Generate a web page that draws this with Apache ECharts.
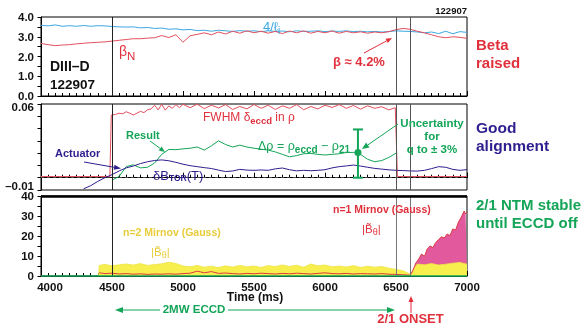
<!DOCTYPE html>
<html><head><meta charset="utf-8">
<script src="https://cdn.jsdelivr.net/npm/echarts@6/dist/echarts.min.js"></script>
<style>
html,body{margin:0;padding:0;background:#fff}
#wrap{position:relative;width:581px;height:331px}
#c{position:absolute;left:0;top:0;width:581px;height:331px}
.ylab{position:absolute;z-index:10;font:bold 11.5px "Liberation Sans", Arial, sans-serif;color:#111;white-space:nowrap;transform:translate(-100%,-50%);line-height:13px;pointer-events:none}
</style>
</head><body><div id="wrap"><div id="c"></div></div>
<script>
// ---------- DATA ----------
const xTicks = [4000, 4500, 5000, 5500, 6000, 6500, 7000];
const eventTimes = [4500, 6500, 6600];
const yTicks1 = [0, 1, 2, 3, 4];
const yTicks2 = [-0.01, 0.06];
const yTicks3 = [0, 10, 20, 30, 40];

// Panel 1: beta_N and 4*li
const panel1Time = [4000,4050,4100,4150,4200,4250,4300,4350,4400,4450,
  4500,4550,4600,4650,4700,4750,4800,4850,4900,4950,
  5000,5050,5100,5150,5200,5250,5300,5350,5400,5450,
  5500,5550,5600,5650,5700,5750,5800,5850,5900,5950,
  6000,6050,6100,6150,6200,6250,6300,6350,6400,6450,
  6500,6550,6600,6650,6700,6750,6800,6850,6900,6950,7000];
const fourLi = [3.58,3.55,3.6,3.53,3.56,3.53,3.57,3.53,3.56,3.55,
  3.52,3.5,3.49,3.5,3.45,3.47,3.42,3.44,3.38,3.4,
  3.35,3.37,3.31,3.33,3.28,3.33,3.3,3.27,3.31,3.28,
  3.3,3.26,3.3,3.27,3.29,3.25,3.3,3.27,3.28,3.3,
  3.26,3.29,3.27,3.3,3.26,3.28,3.25,3.27,3.24,3.26,
  3.3,3.28,3.27,3.24,3.2,3.24,3.16,3.28,3.15,3.26,3.22];
const betaN = [2.66,2.6,2.55,2.58,2.6,2.64,2.67,2.7,2.72,2.74,
  2.78,2.82,2.86,2.9,2.9,2.93,2.95,3.06,2.96,3.1,
  2.72,3.05,3.12,3.2,3.1,3.24,3.14,3.28,3.18,3.3,
  3.2,3.28,3.18,3.27,3.16,3.29,3.2,3.3,3.18,3.27,
  3.2,3.29,3.18,3.27,3.2,3.25,3.18,3.24,3.2,3.26,
  3.36,3.42,3.38,3.28,3.2,3.1,3.0,2.95,3.0,2.97,2.92];

// Panel 2: FWHM, result, actuator
const fwhmTime = [4000,4485,4495,4525,4550,4575,4600,4625,4650,4675,4700,4725,4750,4775,4800,4825,4850,4875,4900,4925,4950,4975,
  5000,5050,5100,5150,5200,5250,5300,5350,5400,5450,5500,5550,5600,5650,5700,5750,5800,5850,5900,5950,
  6000,6050,6100,6150,6200,6250,6300,6350,6400,6450,6495,6510,7000];
const fwhm = [0.001,0.001,0.051,0.0515,0.0525,0.052,0.0537,0.0525,0.051,0.0525,0.054,0.053,0.0553,0.056,0.059,0.0552,0.0598,0.055,0.0585,0.0565,0.0595,0.057,
  0.0598,0.057,0.0598,0.0562,0.059,0.0568,0.0595,0.0555,0.058,0.056,0.0596,0.0565,0.059,0.0555,0.0585,0.0565,0.0595,0.0553,0.058,0.056,
  0.059,0.0572,0.0595,0.0565,0.0588,0.0558,0.0585,0.0565,0.0578,0.0552,0.057,0.001,0.001];
const resultTime = [4500,4550,4600,4650,4700,4750,4800,4850,4900,4950,
  5000,5050,5100,5150,5200,5250,5300,5350,5400,5450,
  5500,5550,5600,5650,5700,5750,5800,5850,5900,5950,
  6000,6050,6100,6150,6200,6250,6300,6350,6400,6450,6500];
const resultDrho = [-0.002,0.001,0.009,0.0105,0.008,0.0085,0.012,0.019,0.023,0.0228,
  0.0235,0.024,0.025,0.0225,0.026,0.030,0.027,0.025,0.0265,0.025,
  0.024,0.0232,0.0225,0.021,0.019,0.017,0.018,0.0195,0.0198,0.019,
  0.0185,0.019,0.0195,0.0205,0.0206,0.019,0.015,0.013,0.014,0.0165,0.020];
const actuatorTime = [4300,4350,4400,4450,4500,4550,4600,4650,4700,4750,
  4800,4850,4900,4950,5000,5050,5100,5150,5200,5250,
  5300,5350,5400,5450,5500,5550,5600,5650,5700,5750,
  5800,5850,5900,5950,6000,6050,6100,6150,6200,6250,
  6300,6350,6400,6450,6500,6550,6600,6650,6700,6750,
  6800,6850,6900,6950,7000];
const actuatorDB = [-0.009,-0.0065,-0.003,0.0,0.0025,0.0055,0.008,0.0095,0.0115,0.013,
  0.014,0.0145,0.0138,0.0125,0.011,0.0098,0.009,0.0082,0.0075,0.0062,
  0.005,0.0055,0.0068,0.0062,0.006,0.0063,0.006,0.0072,0.0079,0.0065,
  0.0056,0.006,0.0057,0.006,0.0065,0.008,0.009,0.0096,0.0103,0.0095,
  0.0085,0.0076,0.007,0.0064,0.006,0.0058,0.0055,0.0054,0.006,0.0074,
  0.009,0.0085,0.0068,0.006,0.0066];
const errT = [6232];
const errMid = [0.0206];
const errLo = [0.0];
const errHi = [0.0393];

// Panel 3: Mirnov amplitudes (Gauss)
const n2Time = [4405,4410,4450,4500,4550,4600,4650,4700,4750,4800,4850,4900,4950,
  5000,5050,5100,5150,5200,5250,5300,5350,5400,5450,5500,5550,5600,5650,5700,5750,5800,5850,5900,5950,
  6000,6050,6100,6150,6200,6250,6300,6350,6400,6450,6500,6550,6590,6610,6630,6650,6700,6750,6800,6850,6900,6950,7000];
const n2Amp = [0,5.3,5.8,5.1,5.6,6.0,5.5,6.2,5.3,5.7,6.1,6.9,6.3,
  5.0,4.6,5.3,4.4,4.9,4.2,5.1,4.5,5.3,4.6,5.0,4.3,5.2,4.7,5.5,4.8,5.4,4.4,6.0,5.1,
  5.5,4.6,5.0,4.5,5.2,4.3,4.9,4.4,4.7,3.9,3.3,2.6,1.2,1.0,4.2,6.0,5.6,6.2,5.5,5.9,6.4,6.8,5.9];
const n1Time = [4410,4450,4500,4550,4600,4650,4700,4750,4800,4850,4900,4950,
  5000,5050,5100,5150,5200,5250,5300,5350,5400,5450,5500,5550,5600,5650,5700,5750,5800,5850,5900,5950,
  6000,6050,6100,6150,6200,6250,6300,6350,6400,6450,6500,6550,6600,
  6620,6640,6660,6680,6700,6720,6740,6760,6780,6800,6820,6840,6860,6880,6900,6920,6940,6960,6980,6990,7000];
const n1Amp = [1.6,1.2,1.4,1.0,1.2,0.9,1.1,0.8,1.0,0.9,1.1,0.9,
  1.2,1.4,2.4,1.6,2.2,1.3,1.5,1.2,1.0,1.3,1.1,1.4,1.2,1.0,1.3,1.1,1.4,1.2,1.0,1.3,
  1.6,1.2,1.1,1.3,1.0,1.2,1.1,1.0,1.2,0.9,0.8,0.6,0.4,
  3.0,6.5,8.5,11.0,9.8,13.5,15.0,14.2,16.8,18.2,19.6,19.0,21.0,20.2,23.5,23.0,27.0,29.5,32.5,31.0,32.0];

// ---------- STYLE ----------
const FF = '"Liberation Sans", Arial, Helvetica, sans-serif';
const RED = '#e0303c', BETARED = '#e2505e', CYAN = '#3aa8e0', NAVY = '#2e1f8e', GREEN = '#14a558',
      YEL = '#f6ef4e', YELTXT = '#e8cc3c', PINK = '#e2599d';

const zip = (a, b) => a.map((t, i) => [t, b[i]]);

function xAx(idx, showLabels) {
  return {
    type: 'value', gridIndex: idx, min: xTicks[0], max: xTicks[xTicks.length - 1], interval: 500,
    axisLine: { show: true, lineStyle: { color: '#000', width: 1 } },
    axisTick: { show: true, inside: true, length: 5, lineStyle: { color: '#000' } },
    minorTick: { show: true, splitNumber: 10, length: 3, lineStyle: { color: '#000' } },
    splitLine: { show: false },
    axisLabel: showLabels ? {
      show: true, margin: 6, color: '#111', fontSize: 11.5, fontWeight: 'bold', fontFamily: FF,
      formatter: v => v === 4000 ? '{first|4000}' : String(v),
      rich: { first: { padding: [0, 0, 0, 18], fontSize: 11.5, fontWeight: 'bold', fontFamily: FF, color: '#111' } }
    } : { show: false }
  };
}
function yAx(idx, min, max, tickStep) {
  return {
    type: 'value', gridIndex: idx, min, max, interval: tickStep,
    axisLine: { show: true, lineStyle: { color: '#000', width: 1 } },
    axisTick: { show: true, inside: false, length: 3.5, lineStyle: { color: '#000' } },
    minorTick: { show: false },
    splitLine: { show: false },
    axisLabel: { show: false }
  };
}
const vlines = (col) => ({
  silent: true, symbol: 'none', label: { show: false }, animation: false,
  data: eventTimes.map((t, i) => ({ xAxis: t, lineStyle: { color: i === 0 ? '#222' : col, width: 1, type: 'solid' } }))
});

// ---------- annotation helpers ----------
const mctx = document.createElement('canvas').getContext('2d');
const G = [];
function txt(s, x, y, color, size, weight, align) {
  G.push({ type: 'text', z: 100, style: {
    text: s, x, y, fill: color, font: `${weight || 'normal'} ${size}px ${FF}`,
    textAlign: align || 'left', textVerticalAlign: 'middle', align: align || 'left', verticalAlign: 'middle' } });
}
function seq(x, y, color, parts, align) {
  let total = 0;
  const ws = parts.map(p => { mctx.font = `${p[2]} ${p[1]}px ${FF}`; const w = mctx.measureText(p[0]).width; total += w; return w; });
  let cx = align === 'center' ? x - total / 2 : x;
  parts.forEach((p, i) => { txt(p[0], cx, y + (p[3] || 0), color, p[1], p[2], 'left'); cx += ws[i]; });
}
function arrow(x1, y1, x2, y2, color, w, hl, hw) {
  hl = hl || 7; hw = hw || 3; w = w || 1;
  const a = Math.atan2(y2 - y1, x2 - x1), c = Math.cos(a), s = Math.sin(a);
  const bx = x2 - hl * c, by = y2 - hl * s;
  G.push({ type: 'line', z: 100, shape: { x1, y1, x2: bx, y2: by }, style: { stroke: color, lineWidth: w } });
  G.push({ type: 'polygon', z: 100, shape: { points: [[x2, y2], [bx + hw * s, by - hw * c], [bx - hw * s, by + hw * c]] }, style: { fill: color } });
}

// Panel 1 annotations
txt('122907', 467, 11.5, '#111', 9.5, 'bold', 'right');
seq(263, 27, CYAN, [['4/\u2113', 13, 'normal', 0], ['i', 10, 'normal', 4]]);
seq(119, 52, RED, [['\u03B2', 14, 'normal', 0], ['N', 11.5, 'normal', 5]]);
txt('DIII\u2013D', 50, 67, '#111', 14, 'bold');
txt('122907', 50, 85, '#111', 13.5, 'bold');
txt('\u03B2 \u2248 4.2%', 333, 62, RED, 13, 'bold');
arrow(364, 53, 392, 38, RED, 1, 6, 2.5);
txt('Beta', 476, 45.5, RED, 15, 'bold');
txt('raised', 476, 64, RED, 15, 'bold');

// Panel 2 annotations
seq(203, 118, RED, [['FWHM \u03B4', 12, 'normal', 0], ['eccd', 9.5, 'bold', 3], [' in \u03C1', 12, 'normal', 0]]);
txt('Result', 126, 136, GREEN, 11, 'bold');
arrow(150, 141, 165, 152, GREEN, 1, 6, 2.5);
txt('Actuator', 55, 154, NAVY, 11, 'bold');
arrow(84, 162, 121, 168.5, NAVY, 1, 7, 2.5);
seq(153, 176, NAVY, [['\u03B4B', 13, 'normal', 0], ['TOR', 8.5, 'bold', 3], ['(T)', 13, 'normal', 0]]);
seq(258, 147, GREEN, [['\u0394\u03C1 = \u03C1', 12.5, 'normal', 0], ['eccd', 10, 'bold', 3], [' \u2212 \u03C1', 12.5, 'normal', 0], ['21', 10, 'bold', 3]]);
txt('Uncertainty', 432, 124, GREEN, 11.5, 'bold', 'center');
txt('for', 432, 137, GREEN, 11.5, 'bold', 'center');
txt('q to \u00B1 3%', 432, 150, GREEN, 11.5, 'bold', 'center');
arrow(398, 124, 362, 149, GREEN, 1, 7, 3);
txt('Good', 476, 129, NAVY, 15.5, 'bold');
txt('alignment', 476, 147, NAVY, 15.5, 'bold');

// Panel 3 annotations
txt('n=2 Mirnov (Gauss)', 123, 233, YELTXT, 10.5, 'bold');
seq(151, 253, YELTXT, [['|B\u0303', 11.5, 'normal', 0], ['\u03B8', 9, 'normal', 3], ['|', 11.5, 'normal', 0]]);
txt('n=1 Mirnov (Gauss)', 333, 210, RED, 10.5, 'bold');
seq(362, 230, RED, [['|B\u0303', 11.5, 'normal', 0], ['\u03B8', 9, 'normal', 3], ['|', 11.5, 'normal', 0]]);
txt('2/1 NTM stable', 476, 205.5, GREEN, 15, 'bold');
txt('until ECCD off', 476, 223.5, GREEN, 15, 'bold');

// Bottom annotations
txt('Time (ms)', 255, 298, '#111', 12, 'bold', 'center');
txt('2MW ECCD', 194, 310, GREEN, 11.5, 'bold', 'center');
arrow(160, 310, 115, 310, GREEN, 1, 8, 3);
arrow(228, 310, 395, 310, GREEN, 1, 8, 3);
txt('2/1 ONSET', 410.5, 319, RED, 13, 'bold', 'center');
arrow(411, 313, 411, 296, RED, 1, 6, 2.5);

// ---------- CHART ----------
const chart = echarts.init(document.getElementById('c'), null, { renderer: 'canvas' });
chart.setOption({
  animation: false,
  backgroundColor: '#fff',
  grid: [
    { left: 41, width: 426, top: 17, height: 79, show: true, borderColor: '#000', borderWidth: 1, backgroundColor: 'transparent' },
    { left: 41, width: 426, top: 104, height: 86, show: true, borderColor: '#000', borderWidth: 1, backgroundColor: 'transparent' },
    { left: 41, width: 426, top: 196, height: 80, show: true, borderColor: '#000', borderWidth: 1, backgroundColor: 'transparent' }
  ],
  xAxis: [xAx(0, false), xAx(1, false), xAx(2, true)],
  yAxis: [ yAx(0, 0, 4, 0.5), yAx(1, -0.01, 0.06, 0.01), yAx(2, 0, 40, 5) ],
  graphic: { elements: G },
  series: [
    { type: 'line', name: '4li', xAxisIndex: 0, yAxisIndex: 0, data: zip(panel1Time, fourLi), showSymbol: false,
      lineStyle: { color: CYAN, width: 1 }, markLine: vlines('#555') },
    { type: 'line', name: 'betaN', xAxisIndex: 0, yAxisIndex: 0, data: zip(panel1Time, betaN), showSymbol: false,
      lineStyle: { color: BETARED, width: 1 } },

    { type: 'line', name: 'fwhm', xAxisIndex: 1, yAxisIndex: 1, data: zip(fwhmTime, fwhm), showSymbol: false,
      lineStyle: { color: BETARED, width: 1 }, markLine: vlines('#555') },
    { type: 'line', name: 'result', xAxisIndex: 1, yAxisIndex: 1, data: zip(resultTime, resultDrho), showSymbol: false,
      lineStyle: { color: GREEN, width: 1 } },
    { type: 'line', name: 'actuator', xAxisIndex: 1, yAxisIndex: 1, data: zip(actuatorTime, actuatorDB), showSymbol: false,
      lineStyle: { color: NAVY, width: 1 },
      markLine: { silent: true, symbol: 'none', label: { show: false },
        data: [{ yAxis: 0, lineStyle: { color: '#444', width: 1, type: [3, 3] } }] } },
    { type: 'custom', name: 'err', xAxisIndex: 1, yAxisIndex: 1, z: 5,
      data: errT.map((t, i) => [t, errMid[i], errLo[i], errHi[i]]),
      renderItem: (params, api) => {
        const c = api.coord([api.value(0), api.value(1)]);
        const lo = api.coord([api.value(0), api.value(2)]);
        const hi = api.coord([api.value(0), api.value(3)]);
        const st = { stroke: GREEN, lineWidth: 2 };
        return { type: 'group', children: [
          { type: 'line', shape: { x1: c[0], y1: lo[1], x2: c[0], y2: hi[1] }, style: st },
          { type: 'line', shape: { x1: c[0] - 5, y1: lo[1], x2: c[0] + 5, y2: lo[1] }, style: st },
          { type: 'line', shape: { x1: c[0] - 5, y1: hi[1], x2: c[0] + 5, y2: hi[1] }, style: st },
          { type: 'circle', shape: { cx: c[0], cy: c[1], r: 3.5 }, style: { fill: GREEN } }
        ] };
      } },

    { type: 'line', name: 'n1area', xAxisIndex: 2, yAxisIndex: 2, data: zip(n1Time, n1Amp), showSymbol: false,
      lineStyle: { width: 0 }, areaStyle: { color: PINK, opacity: 1 } },
    { type: 'line', name: 'n2', xAxisIndex: 2, yAxisIndex: 2, data: zip(n2Time, n2Amp), showSymbol: false,
      lineStyle: { color: '#ede445', width: 0.8 }, areaStyle: { color: YEL, opacity: 1 } },
    { type: 'line', name: 'n1', xAxisIndex: 2, yAxisIndex: 2, data: zip(n1Time, n1Amp), showSymbol: false,
      lineStyle: { color: '#dc3a44', width: 1 },
      markLine: { silent: true, symbol: 'none', label: { show: false },
        data: [
          { xAxis: eventTimes[0], lineStyle: { color: '#222', width: 1, type: 'solid' } },
          { xAxis: eventTimes[1], lineStyle: { color: '#777', width: 1, type: 'solid' } },
          { xAxis: eventTimes[2], lineStyle: { color: '#777', width: 1, type: 'solid' } },
          { yAxis: 0, lineStyle: { color: GREEN, width: 1.5, type: 'solid' } },
          { yAxis: 40, lineStyle: { color: '#000', width: 2.5, type: 'solid' } }
        ] } }
  ]
});

// y tick labels as HTML text, positioned through each panel's own scale
const wrap = document.getElementById('wrap');
function yLabels(gridIndex, ticks, fmt, dyFn) {
  ticks.forEach((v, i) => {
    const p = chart.convertToPixel({ gridIndex }, [xTicks[0], v]);
    const d = document.createElement('div');
    d.className = 'ylab';
    d.textContent = fmt(v);
    d.style.left = (p[0] - 7) + 'px';
    d.style.top = (p[1] + (dyFn ? dyFn(i) : 0)) + 'px';
    wrap.appendChild(d);
  });
}
yLabels(0, yTicks1, v => v.toFixed(1));
yLabels(1, yTicks2, v => v < 0 ? '\u2013' + Math.abs(v).toFixed(2) : v.toFixed(2), i => i === 0 ? -4 : 3);
yLabels(2, yTicks3, v => String(v));
</script>
</body></html>
